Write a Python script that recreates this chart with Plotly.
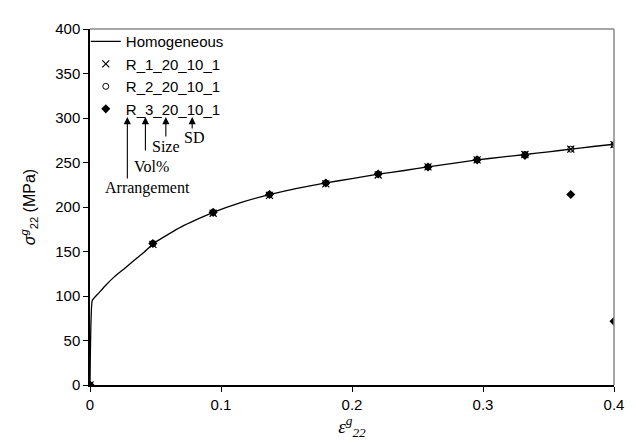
import plotly.graph_objects as go

# Homogeneous curve
homo_x = [0, 0.0017, 0.0065, 0.0113, 0.0185, 0.0264, 0.034, 0.0415, 0.048, 0.06, 0.07, 0.08,
          0.094, 0.115, 0.137, 0.158, 0.18, 0.2, 0.22, 0.24, 0.258, 0.277, 0.2955, 0.314,
          0.332, 0.35, 0.367, 0.384, 0.4]
homo_y = [0, 95, 103, 111, 121.5, 131, 140.5, 149.5, 158.5, 169.5, 178, 185,
          194, 205, 214, 221, 227, 232, 237, 241, 245, 249, 253, 256,
          259, 262, 265, 268, 270.5]

# Particle-reinforced samples
pts_x = [0, 0.048, 0.094, 0.137, 0.18, 0.22, 0.258, 0.2955, 0.332, 0.367, 0.4]
r1_y = [0, 158, 193, 213, 226, 236, 245, 253, 259, 265, 270]
r2_y = [0, 159, 194, 214, 227, 237, 245, 253, 259, 265, 270]
r3_y = [0, 159, 194, 214, 227, 237, 245, 253, 258, 214, 71.5]

x_ticks = [0, 0.1, 0.2, 0.3, 0.4]
y_ticks = [0, 50, 100, 150, 200, 250, 300, 350, 400]

fig = go.Figure()
fig.add_trace(go.Scatter(x=homo_x, y=homo_y, mode="lines", name="Homogeneous",
                         line=dict(color="black", width=1.3, shape="spline", smoothing=0.3)))
fig.add_trace(go.Scatter(x=pts_x, y=r1_y, mode="markers", name="R_1_20_10_1",
                         marker=dict(symbol="x-thin-open", size=7, color="black",
                                     line=dict(color="black", width=1.2))))
fig.add_trace(go.Scatter(x=pts_x, y=r2_y, mode="markers", name="R_2_20_10_1",
                         marker=dict(symbol="circle-open", size=6, color="black",
                                     line=dict(color="black", width=1))))
fig.add_trace(go.Scatter(x=pts_x, y=r3_y, mode="markers", name="R_3_20_10_1",
                         marker=dict(symbol="diamond", size=7, color="black")))

serif = "Liberation Serif, Times New Roman, serif"
# arrows
arrow_x = [0.0285, 0.0423, 0.0579, 0.0780]
arrow_ay = [63, 35, 21, 13]
for ax_, ay_ in zip(arrow_x, arrow_ay):
    fig.add_annotation(x=ax_, y=301, xref="x", yref="y", ax=0, ay=ay_, text="",
                       showarrow=True, arrowhead=2, arrowsize=1.3, arrowwidth=1.1,
                       arrowcolor="black")

labels = ["Arrangement", "Vol%", "Size", "SD"]
label_x = [0.0440, 0.0473, 0.0581, 0.0792]
label_y = [221, 245, 268.5, 278]
for t, lx, ly in zip(labels, label_x, label_y):
    fig.add_annotation(x=lx, y=ly, xref="x", yref="y", text=t, showarrow=False,
                       font=dict(family=serif, size=16, color="black"),
                       xanchor="center", yanchor="middle")

# gray top and right frame
fig.add_shape(type="line", xref="paper", yref="paper", x0=0, x1=1, y0=1, y1=1,
              line=dict(color="#888888", width=1.5))
fig.add_shape(type="line", xref="paper", yref="paper", x0=1, x1=1, y0=0, y1=1,
              line=dict(color="#888888", width=1.5))

fig.update_layout(
    width=628, height=438,
    margin=dict(l=82, r=16, t=14, b=60),
    plot_bgcolor="white", paper_bgcolor="white",
    font=dict(family="Liberation Sans, Arial, sans-serif", size=15, color="black"),
    showlegend=True,
    legend=dict(x=-0.008, y=1.011, xanchor="left", yanchor="top",
                bgcolor="rgba(0,0,0,0)", borderwidth=0,
                font=dict(size=15), tracegroupgap=0, itemwidth=30),
    xaxis=dict(range=[0, 0.4], tickvals=x_ticks, ticktext=["0", "0.1", "0.2", "0.3", "0.4"],
               showgrid=False, zeroline=False, showline=True, linecolor="black", linewidth=1.5,
               ticks="outside", ticklen=5, tickcolor="black",
               title=dict(text="<i>ε</i><sup><i>g</i></sup><sub><i>22</i></sub>",
                          font=dict(family=serif, size=19), standoff=8)),
    yaxis=dict(range=[0, 400], tickvals=y_ticks,
               showgrid=False, zeroline=False, showline=True, linecolor="black", linewidth=1.5,
               ticks="outside", ticklen=5, tickcolor="black",
               title=dict(text="<i>σ</i><sup><i>g</i></sup><sub>22</sub> (MPa)",
                          font=dict(size=16), standoff=16)),
)

fig.write_html("out.html")
